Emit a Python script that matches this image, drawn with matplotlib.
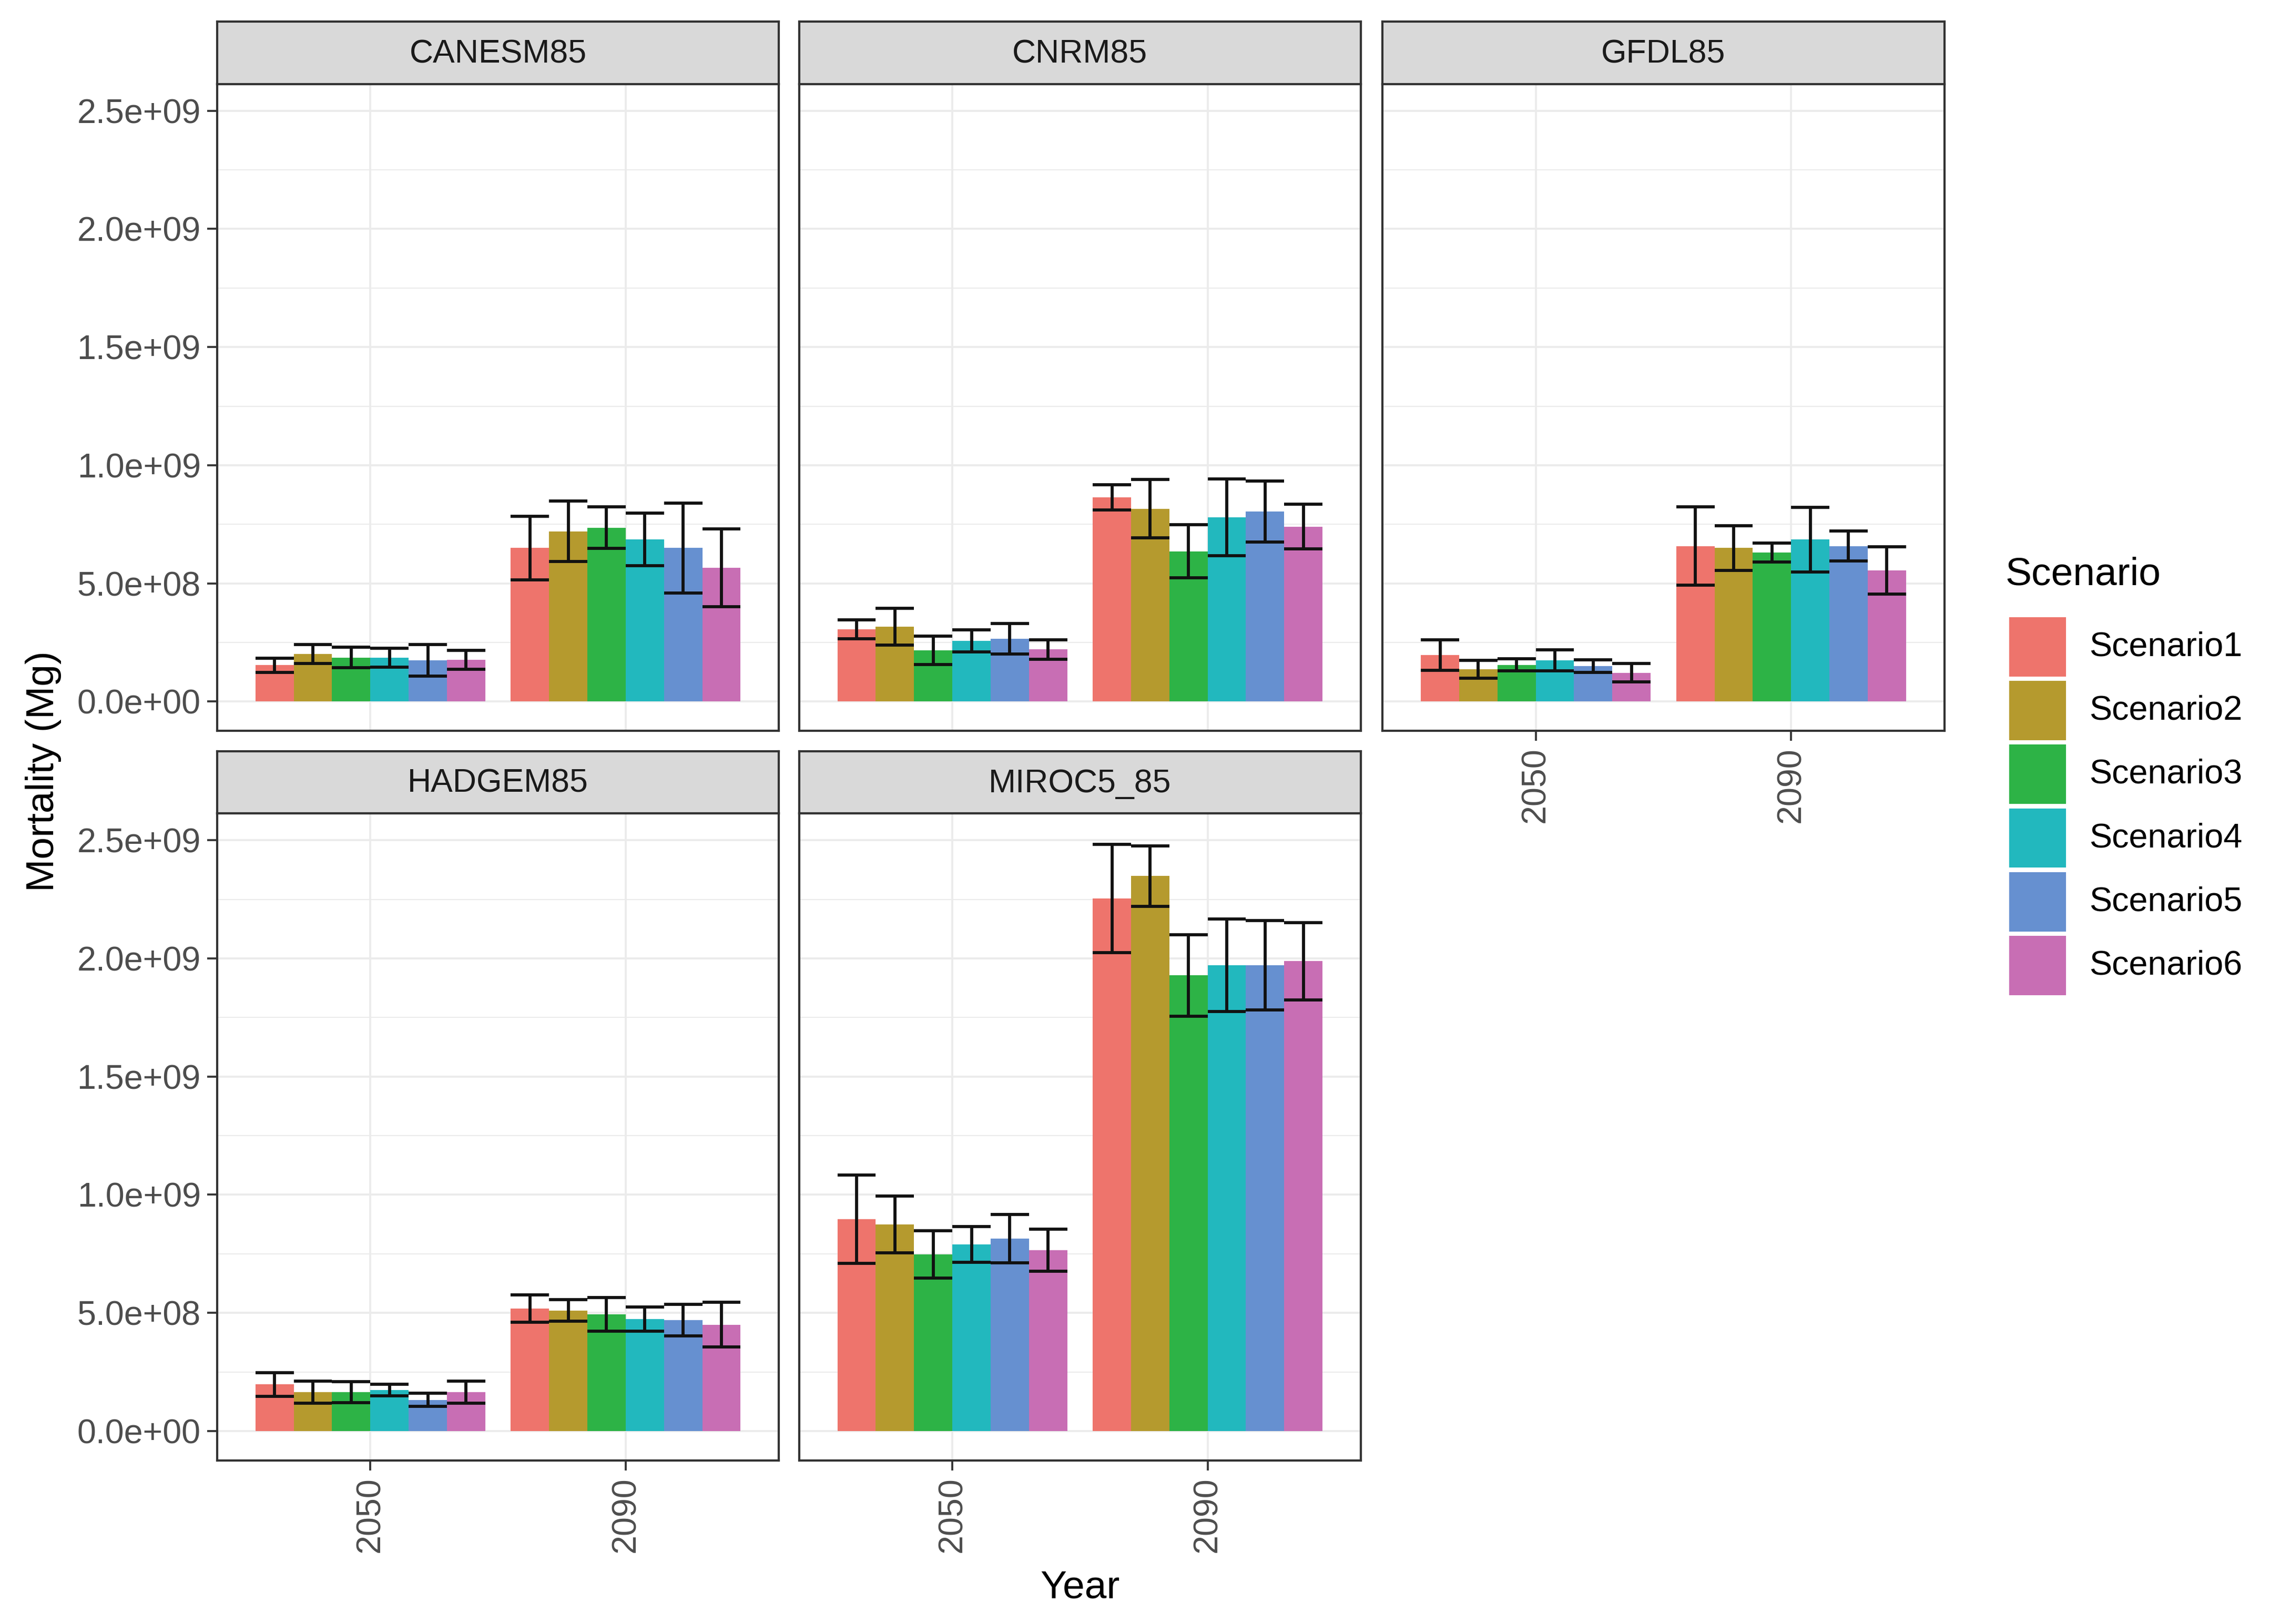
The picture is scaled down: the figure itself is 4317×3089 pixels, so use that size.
# faceted bar chart: mortality by scenario, year and climate model
import numpy as np
import matplotlib.pyplot as plt
from matplotlib.patches import Rectangle

plt.rcParams['font.family'] = ['Liberation Sans', 'DejaVu Sans']

years = ['2050', '2090']
scenarios = ['Scenario1', 'Scenario2', 'Scenario3', 'Scenario4', 'Scenario5', 'Scenario6']
models = ['CANESM85', 'CNRM85', 'GFDL85', 'HADGEM85', 'MIROC5_85']

# means (1e9 Mg), rows = 2050, 2090 ; columns = Scenario1..6
canesm85_mean = [[0.154, 0.200, 0.186, 0.186, 0.174, 0.176],
                 [0.650, 0.720, 0.736, 0.686, 0.650, 0.566]]
canesm85_err = [[0.030, 0.040, 0.043, 0.040, 0.067, 0.040],
                [0.135, 0.128, 0.087, 0.111, 0.190, 0.165]]

cnrm85_mean = [[0.306, 0.316, 0.216, 0.256, 0.266, 0.220],
               [0.864, 0.816, 0.636, 0.780, 0.804, 0.740]]
cnrm85_err = [[0.040, 0.078, 0.060, 0.047, 0.064, 0.041],
              [0.053, 0.123, 0.113, 0.162, 0.130, 0.095]]

gfdl85_mean = [[0.196, 0.136, 0.155, 0.174, 0.150, 0.122],
               [0.658, 0.650, 0.630, 0.685, 0.658, 0.554]]
gfdl85_err = [[0.065, 0.038, 0.025, 0.045, 0.027, 0.038],
              [0.166, 0.095, 0.040, 0.136, 0.064, 0.100]]

hadgem85_mean = [[0.197, 0.164, 0.164, 0.173, 0.132, 0.164],
                 [0.518, 0.510, 0.494, 0.474, 0.470, 0.450]]
hadgem85_err = [[0.050, 0.047, 0.045, 0.024, 0.028, 0.047],
                [0.058, 0.046, 0.072, 0.052, 0.067, 0.094]]

miroc5_85_mean = [[0.896, 0.875, 0.747, 0.790, 0.814, 0.766],
                  [2.253, 2.349, 1.928, 1.971, 1.971, 1.988]]
miroc5_85_err = [[0.187, 0.120, 0.100, 0.075, 0.103, 0.089],
                 [0.229, 0.128, 0.172, 0.195, 0.190, 0.163]]

means = [canesm85_mean, cnrm85_mean, gfdl85_mean, hadgem85_mean, miroc5_85_mean]
errs = [canesm85_err, cnrm85_err, gfdl85_err, hadgem85_err, miroc5_85_err]

colors = ['#EE746C', '#B59A2E', '#2DB346', '#22B8BE', '#6690D0', '#C86EB4']

W, H = 1568.0, 1122.0  # layout measured on a 1568 px wide copy
fig = plt.figure(figsize=(4317 / 300, 3089 / 300), dpi=300)
fig.patch.set_facecolor('white')

col_x = [150, 552, 955]
panel_w = 388
rows = [(58, 505), (562, 1009)]
strip_h = 43
border = '#333333'
grid_c = '#EBEBEB'
tick_c = '#4D4D4D'

bar_w = 0.15
ymin, ymax = -0.1245e9, 2.6135e9
elw = 1.4

for k, name in enumerate(models):
    r, c = divmod(k, 3)
    top, bot = rows[r]
    ax = fig.add_axes([col_x[c] / W, 1 - bot / H, panel_w / W, (bot - top) / H])
    mean = np.array(means[k]) * 1e9
    err = np.array(errs[k]) * 1e9
    for i in range(len(years)):
        xs = (i + 1) - 0.45 + bar_w * (np.arange(len(scenarios)) + 0.5)
        ax.bar(xs, mean[i], width=bar_w, color=colors, zorder=2, linewidth=0)
        ax.vlines(xs, mean[i] - err[i], mean[i] + err[i], color='#111111', lw=elw, zorder=3)
        ax.hlines(mean[i] - err[i], xs - bar_w / 2, xs + bar_w / 2, color='#111111', lw=elw, zorder=3)
        ax.hlines(mean[i] + err[i], xs - bar_w / 2, xs + bar_w / 2, color='#111111', lw=elw, zorder=3)

    ax.set_xlim(0.4, 2.6)
    ax.set_ylim(ymin, ymax)
    ax.set_xticks([1, 2])
    ax.set_xticklabels(years, rotation=90, fontsize=15.5, color=tick_c)
    ax.set_yticks(np.arange(0, 2.51e9, 5e8))
    ax.set_yticks(np.arange(2.5e8, 2.5e9, 5e8), minor=True)
    ax.set_yticklabels([f'{v:.1e}' for v in np.arange(0, 2.51e9, 5e8)], fontsize=15.5, color=tick_c)
    ax.grid(True, which='major', color=grid_c, lw=0.9, zorder=0)
    ax.grid(True, which='minor', axis='y', color=grid_c, lw=0.5, zorder=0)
    ax.set_axisbelow(True)
    ax.tick_params(which='minor', left=False)
    ax.tick_params(which='major', color=border, length=4.5, width=0.9, pad=3)
    for s in ax.spines.values():
        s.set_color(border)
        s.set_linewidth(1.0)

    if c != 0:
        ax.tick_params(left=False, labelleft=False)
    # x labels only where no panel sits below
    if r == 0 and c < 2:
        ax.tick_params(bottom=False, labelbottom=False)

    # strip on top of the panel
    sax = fig.add_axes([col_x[c] / W, 1 - top / H, panel_w / W, strip_h / H])
    sax.set_facecolor('#D9D9D9')
    sax.set_xticks([])
    sax.set_yticks([])
    for s in sax.spines.values():
        s.set_color(border)
        s.set_linewidth(1.0)
    sax.text(0.5, 0.48, name, ha='center', va='center', fontsize=15, color='#1A1A1A',
             transform=sax.transAxes)

fig.text(30 / W, 1 - 533 / H, 'Mortality (Mg)', rotation=90, ha='center', va='center', fontsize=18)
fig.text(746 / W, 1 - 1097 / H, 'Year', ha='center', va='center', fontsize=18)

# legend drawn by hand to match the ggplot guide
fig.text(1385 / W, 1 - 397 / H, 'Scenario', ha='left', va='center', fontsize=18)
key_top = 425
key_h = 44
for j, lab in enumerate(scenarios):
    y0 = 1 - (key_top + (j + 1) * key_h) / H
    fig.add_artist(Rectangle((1388 / W, y0 + 1.5 / H), 39 / W, (key_h - 3) / H,
                             transform=fig.transFigure, color=colors[j], lw=0))
    fig.text(1443 / W, y0 + key_h / 2 / H, lab, ha='left', va='center', fontsize=15.5)

fig.savefig('out.png', dpi=300)
